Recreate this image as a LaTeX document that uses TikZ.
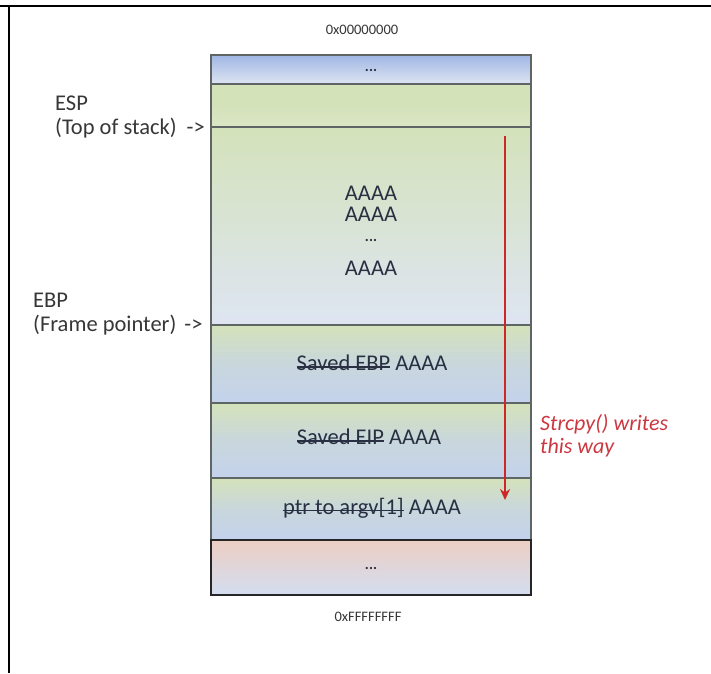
\documentclass[tikz,border=0pt]{standalone}
\usepackage{fontspec}
\setmainfont{Carlito}
\newcommand\mystrk[1]{\leavevmode\setbox0\hbox{#1}\rlap{\rule[0.26ex]{\wd0}{1.5pt}}\box0}
\usetikzlibrary{arrows.meta}
\definecolor{rowgreen}{RGB}{212,226,186}
\definecolor{rowblue}{RGB}{196,210,236}
\definecolor{rowlight}{RGB}{222,229,242}
\definecolor{topblue}{RGB}{160,182,228}
\definecolor{peach}{RGB}{244,206,188}
\definecolor{edge}{RGB}{95,100,100}
\definecolor{labgray}{RGB}{55,55,55}
\definecolor{txtdark}{RGB}{40,48,66}
\definecolor{arrred}{RGB}{205,40,40}
\definecolor{txtred}{RGB}{205,55,65}
\tikzset{
  row/.style={draw=edge, line width=1.6pt, minimum width=320pt, inner sep=0pt,
    top color=rowgreen, bottom color=rowblue, middle color=rowblue!70!rowgreen},
  lab/.style={font=\fontsize{22.5}{27}\selectfont, text=labgray, align=left, anchor=west, inner sep=0pt},
  cell/.style={font=\fontsize{22.5}{27}\selectfont, text=txtdark, inner sep=0pt},
  dots/.style={font=\fontsize{15}{17}\selectfont\bfseries, text=txtdark, inner sep=0pt},
  hex/.style={font=\fontsize{14.5}{17}\selectfont, text=labgray, inner sep=0pt},
}
\begin{document}
\begin{tikzpicture}[x=1pt,y=-1pt]
\useasboundingbox (0,0) rectangle (711,673);
\fill[white] (0,0) rectangle (711,673);
% frame
\draw[line width=2pt] (0,6) -- (711,6);
\draw[line width=1.5pt] (9,6) -- (9,673);
% rows
\node[row, minimum height=29pt, top color=topblue, bottom color=rowlight, middle color=topblue!50!rowlight] (r0) at (371,69.5) {};
\node[row, minimum height=43pt, top color=rowgreen, bottom color=rowgreen!85!white, middle color=rowgreen] (r1) at (371,105.5) {};
\node[row, minimum height=198pt, top color=rowgreen, middle color=rowblue, bottom color=rowlight] (r2) at (371,226) {};
\node[row, minimum height=78pt] (r3) at (371,364) {};
\node[row, minimum height=75pt] (r4) at (371,440.5) {};
\node[row, minimum height=62pt] (r5) at (371,509) {};
\node[row, minimum height=55pt, line width=2.2pt, draw=black!85, top color=peach!85!rowblue, middle color=rowblue, bottom color=rowblue!75!white] (r6) at (371,567.5) {};
% row texts
\node[dots] (d0) at (371,70) {...};
\node[cell] (a1) at (371,193) {AAAA};
\node[cell] (a2) at (371,214) {AAAA};
\node[dots] (a3) at (371,240) {...};
\node[cell] (a4) at (371,268) {AAAA};
\node[cell] (t3) at (372,363) {\mystrk{Saved EBP}\ AAAA};
\node[cell] (t4) at (369,437) {\mystrk{Saved EIP}\ AAAA};
\node[cell] (t5) at (372,508) {\mystrk{ptr to argv[1]}\ AAAA};
\node[dots] (d6) at (371,568) {...};
% addresses
\node[hex] (h0) at (362,30) {0x00000000};
\node[hex] (h1) at (368,617) {0xFFFFFFFF};
% side labels
\node[lab] (esp) at (55,103) {ESP};
\node[lab] (espd) at (55,128) {(Top of stack)\hspace{10pt}->};
\node[lab] (ebp) at (33,300) {EBP};
\node[lab] (ebpd) at (33,325) {(Frame pointer)\hspace{8pt}->};
% strcpy arrow
\coordinate (as) at (505,136);
\coordinate (ae) at (505,500);
\draw[arrred, line width=2pt, -{Stealth[length=11pt,width=10pt]}] (as) -- (ae);
\node[lab, text=txtred, font=\fontsize{22}{26}\selectfont\itshape] (sw) at (540,424) {Strcpy() writes};
\node[lab, text=txtred, font=\fontsize{22}{26}\selectfont\itshape] (tw) at (540,448) {this way};
\end{tikzpicture}
\end{document}
